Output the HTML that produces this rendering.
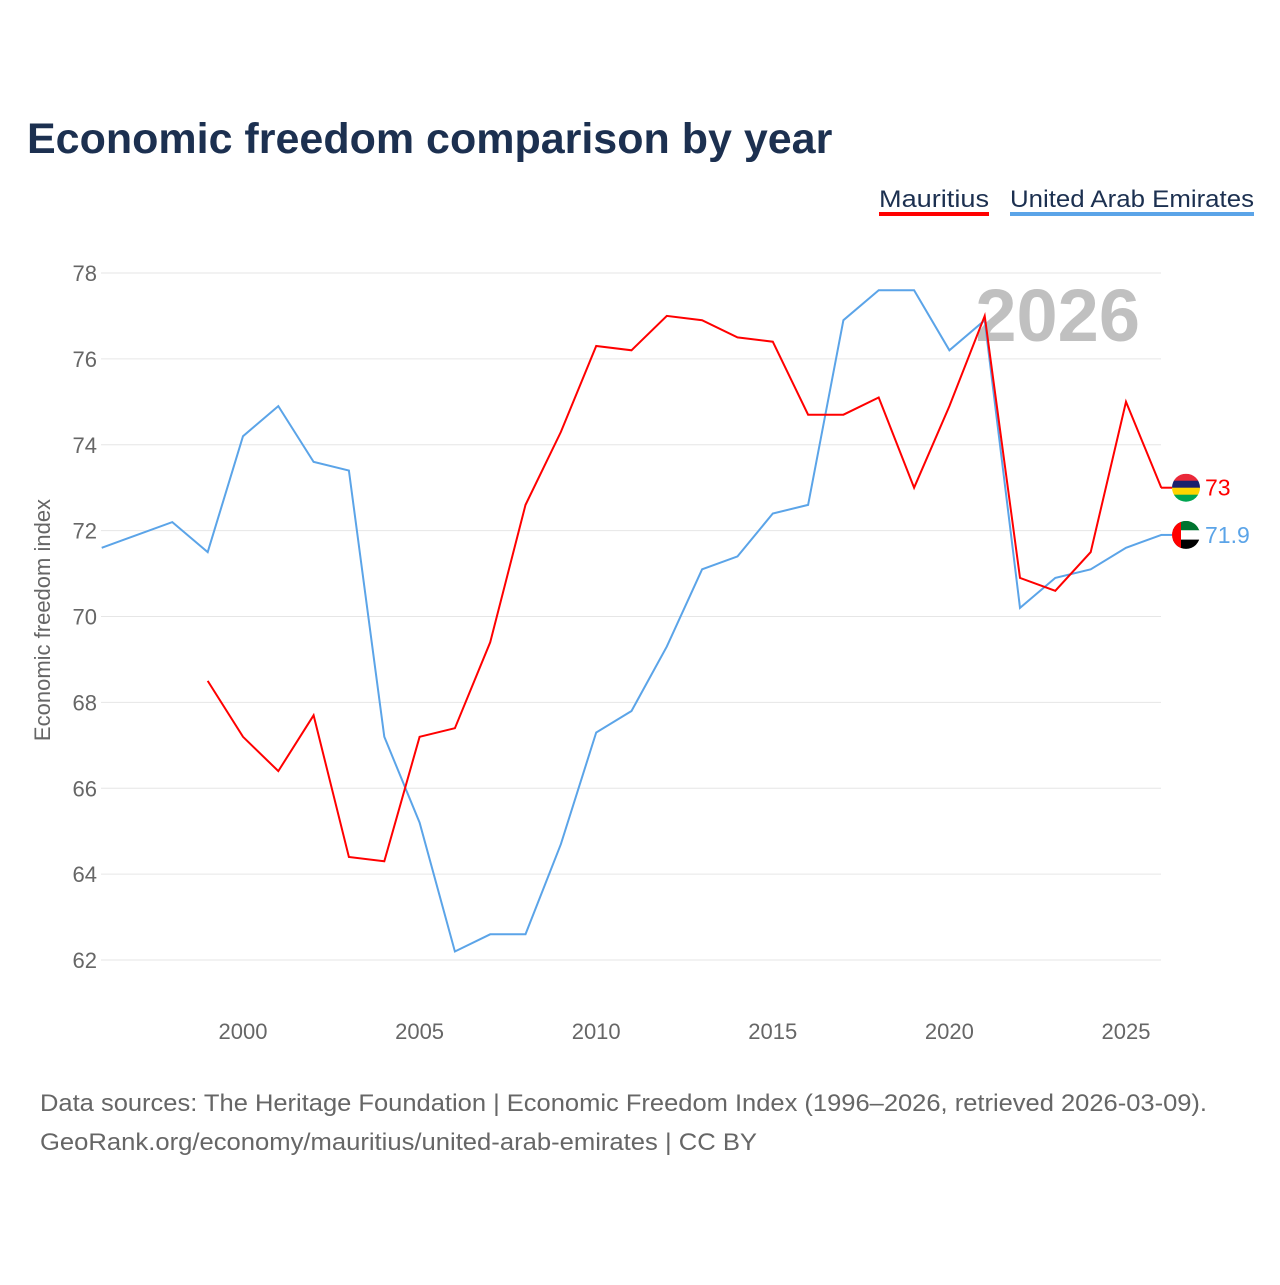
<!DOCTYPE html>
<html><head><meta charset="utf-8"><style>
body{margin:0;background:#fff;font-family:"Liberation Sans",sans-serif}
svg text{font-family:"Liberation Sans",sans-serif}
</style></head><body>
<svg id="c" width="1280" height="1280">
<text x="27" y="153" font-size="43" font-weight="bold" fill="#1c3050">Economic freedom comparison by year</text>
<g>
<text x="879" y="207" font-size="24" fill="#1c3050" textLength="110" lengthAdjust="spacingAndGlyphs">Mauritius</text>
<rect x="879" y="212" width="110" height="4" fill="#ff0000"/>
<text x="1010" y="207" font-size="24" fill="#1c3050" textLength="244" lengthAdjust="spacingAndGlyphs">United Arab Emirates</text>
<rect x="1010" y="212" width="244" height="4" fill="#5ba4e8"/>
</g>
<text x="1140" y="341" font-size="74" font-weight="bold" fill="#c0c0c0" text-anchor="end">2026</text>
<text transform="translate(50,620) rotate(-90)" font-size="22" fill="#666" text-anchor="middle">Economic freedom index</text>
<g id="grid"></g><g id="series"></g>
<text x="40" y="1111" font-size="24" fill="#666" textLength="1167" lengthAdjust="spacingAndGlyphs">Data sources: The Heritage Foundation | Economic Freedom Index (1996–2026, retrieved 2026-03-09).</text>
<text x="40" y="1150" font-size="24" fill="#666" textLength="717" lengthAdjust="spacingAndGlyphs">GeoRank.org/economy/mauritius/united-arab-emirates | CC BY</text>
</svg>
<script>
const years=[1996,1997,1998,1999,2000,2001,2002,2003,2004,2005,2006,2007,2008,2009,2010,2011,2012,2013,2014,2015,2016,2017,2018,2019,2020,2021,2022,2023,2024,2025,2026];
const uae=[71.6,71.9,72.2,71.5,74.2,74.9,73.6,73.4,67.2,65.2,62.2,62.6,62.6,64.7,67.3,67.8,69.3,71.1,71.4,72.4,72.6,76.9,77.6,77.6,76.2,76.9,70.2,70.9,71.1,71.6,71.9];
const mauritius=[null,null,null,68.5,67.2,66.4,67.7,64.4,64.3,67.2,67.4,69.4,72.6,74.3,76.3,76.2,77.0,76.9,76.5,76.4,74.7,74.7,75.1,73.0,74.9,77.0,70.9,70.6,71.5,75.0,73.0];
const yTicks=[62,64,66,68,70,72,74,76,78];
const xTicks=[2000,2005,2010,2015,2020,2025];
const NS='http://www.w3.org/2000/svg';
const x=v=>101.7+(v-1996)*35.32;
const y=v=>273+(78-v)*42.94;
function mk(t,a,p){const e=document.createElementNS(NS,t);for(const k in a)e.setAttribute(k,a[k]);p.appendChild(e);return e;}
const g=document.getElementById('grid');
yTicks.forEach(t=>{
 const l=mk('line',{x1:101,x2:1161,y1:y(t),y2:y(t),stroke:'#e6e6e6','stroke-width':1},g);
 
 
 const tx=mk('text',{x:97,y:y(t)+8,'font-size':22,fill:'#666','text-anchor':'end'},g);
 tx.textContent=t;
 
 
});
xTicks.forEach(t=>{
 const tx=mk('text',{x:x(t),y:1039,'font-size':22,fill:'#666','text-anchor':'middle'},g);
 tx.textContent=t;
 
 
});
const s=document.getElementById('series');
function line(vals,color,name){
 let d='';vals.forEach((v,i)=>{if(v==null)return;d+=(d?'L':'M')+x(years[i]).toFixed(1)+','+y(v).toFixed(1);});
 const p=mk('path',{d:d,fill:'none',stroke:color,'stroke-width':2},s);
 
 
}
line(uae,'#5ba4e8','uae-line');
line(mauritius,'#ff0000','mauritius-line');
function endLabel(vals,color,name,stripes,vert){
 const v=vals[vals.length-1],cy=y(v),cx=1186;
 mk('line',{x1:1161,x2:1172,y1:cy,y2:cy,stroke:color,'stroke-width':2},s);
 const gg=mk('g',{},s);
 
 
 const id='cl'+name;
 const cp=mk('clipPath',{id:id},gg);mk('circle',{cx:cx,cy:cy,r:14},cp);
 const inner=mk('g',{'clip-path':'url(#'+id+')'},gg);
 const h=28/stripes.length;
 stripes.forEach((c,i)=>mk('rect',{x:cx-14,y:cy-14+i*h,width:28,height:h+0.5,fill:c},inner));
 if(vert)mk('rect',{x:cx-14,y:cy-14,width:9,height:28,fill:vert},inner);
 const t=mk('text',{x:1205,y:cy+8,'font-size':23,fill:color},s);
 t.textContent=v;
 
 
}
endLabel(mauritius,'#ff0000','mauritius',['#ea2839','#1a206d','#ffd500','#00a551'],null);
endLabel(uae,'#5ba4e8','uae',['#00732f','#ffffff','#000000'],'#ff0000');
</script>
</body></html>
